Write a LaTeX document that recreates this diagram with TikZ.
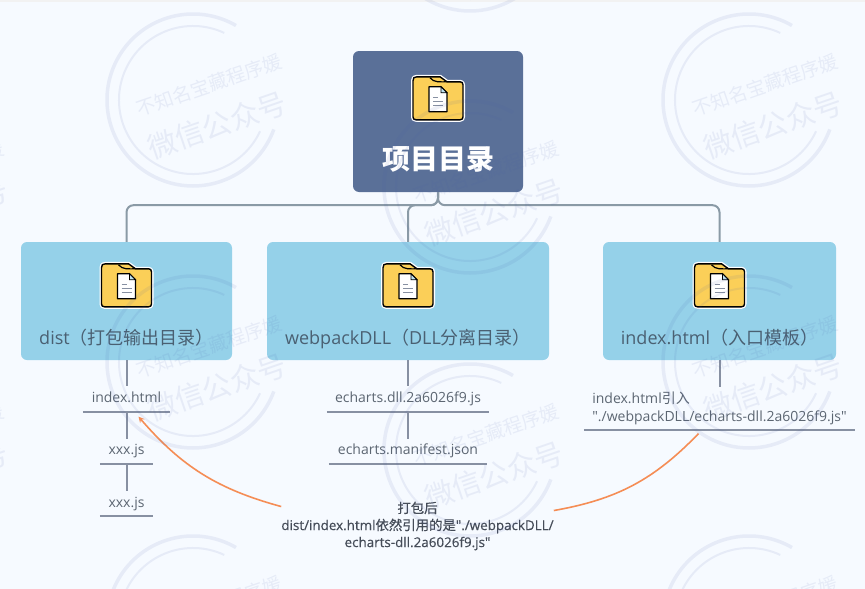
\documentclass[tikz,border=0pt]{standalone}
\usepackage{fontspec}
\setmainfont{Open Sans}[Ligatures=TeXOff]
\newfontfamily\cjk{Noto Sans CJK SC}
\newfontfamily\notelatin{Open Sans}[Ligatures=TeXOff, FakeBold=0.5]
\newfontfamily\notecjk{Noto Sans CJK SC}[FakeBold=0.5]
\usepackage{tikz}
\usetikzlibrary{arrows,positioning,calc}
\definecolor{pagebg}{HTML}{F6FAFF}
\definecolor{rootblue}{HTML}{5A7098}
\definecolor{dirblue}{HTML}{95D1E9}
\definecolor{dirtext}{HTML}{4A6072}
\definecolor{linkgrey}{HTML}{8A9AA6}
\definecolor{leafgrey}{HTML}{8790A2}
\definecolor{leaftext}{HTML}{5C6672}
\definecolor{notetext}{HTML}{454C58}
\definecolor{curveorange}{HTML}{F58D55}
\definecolor{folderyellow}{HTML}{FBCF58}
\definecolor{markblue}{HTML}{465AAA}
\tikzstyle{rootnode} = [rectangle, rounded corners=6pt, inner sep=0pt, minimum width=170pt, fill=rootblue, text=white, font=\cjk\bfseries\fontsize{28}{32}\selectfont, text height=118pt, text depth=23pt]
\tikzstyle{dirnode} = [rectangle, rounded corners=6pt, inner sep=0pt, fill=dirblue, text=dirtext, font=\fontsize{18}{22}\selectfont, text height=102pt, text depth=16pt]
\tikzstyle{leafnode} = [inner sep=0pt, text=leaftext, font=\fontsize{14}{18}\selectfont, text height=16pt, text depth=9pt]
\tikzstyle{wideleaf} = [inner sep=0pt, inner xsep=8pt, text=leaftext, font=\fontsize{14}{18}\selectfont, align=left]
\tikzstyle{notenode} = [inner sep=0pt, align=center, text=notetext, font=\notelatin\fontsize{13.4}{17}\selectfont]
\tikzstyle{link} = [draw=linkgrey, line width=2pt, rounded corners=7pt]
\tikzstyle{leafline} = [draw=leafgrey, line width=2pt]
\tikzstyle{curve} = [draw=curveorange, line width=1.6pt, ->, >=stealth]
\tikzstyle{markfont} = [inner sep=0pt, text=markblue, text opacity=.09, font=\cjk]
\newcommand{\foldericon}[1]{%
  \begin{scope}[shift={(#1)}]
    \draw [white, line width=4pt, line join=round] (-25,-15) -- (-25,-17) .. controls (-25,-20) and (-24,-21) .. (-21,-21) -- (2,-21) -- (9,-16) -- (22,-16) .. controls (24,-16) and (25,-15) .. (25,-13) -- (25,19) .. controls (25,21) and (24,22) .. (22,22) -- (-22,22) .. controls (-24,22) and (-25,21) .. (-25,19) -- cycle;
    \draw [black, fill=folderyellow, line width=1.4pt, line join=round] (-25,-15) -- (-25,-17) .. controls (-25,-20) and (-24,-21) .. (-21,-21) -- (2,-21) -- (9,-16) -- (22,-16) .. controls (24,-16) and (25,-15) .. (25,-13) -- (25,19) .. controls (25,21) and (24,22) .. (22,22) -- (-22,22) .. controls (-24,22) and (-25,21) .. (-25,19) -- cycle;
    \draw [black, line width=1.2pt] (-8,-20) .. controls (-4,-15) and (2,-16) .. (9,-16);
    \draw [black, fill=white, line width=1.2pt, line join=round] (-9,-11) -- (3,-11) -- (9,-5) -- (9,14) -- (-9,14) -- cycle;
    \draw [black, fill=dirblue!60, line width=.8pt] (3,-11) -- (3,-5) -- (9,-5) -- cycle;
    \draw [leafgrey, line width=.6pt] (-5,-1) -- (0,-1) (-5,3) -- (5,3) (-5,7) -- (5,7);
  \end{scope}}
\newcommand{\watermark}[3]{%
  \begin{scope}[shift={(#1,#2)}]
    \draw [markblue, opacity=.09, line width=3.5pt] (0,0) ++(60:86pt) arc[start angle=60, end angle=340, radius=86pt];
    \draw [markblue, opacity=.09, line width=2pt] (0,0) ++(65:74pt) arc[start angle=65, end angle=335, radius=74pt];
    \node (#3a) [markfont, rotate=19, font=\cjk\fontsize{19}{19}\selectfont] at (16,-15) {不知名宝藏程序媛};
    \node (#3b) [markfont, rotate=19, font=\cjk\fontsize{29}{29}\selectfont] at (24,25) {微信公众号};
  \end{scope}}
\begin{document}
\begin{tikzpicture}[x=1pt, y=-1pt]
    \useasboundingbox (0,0) rectangle (865,589);
    \fill [pagebg] (0,0) rectangle (865,589);
    \fill [black!5] (0,0) rectangle (865,2);

    % Nodes
    \node (root) [rootnode] at (438,121.5) {项目目录};
    \node (dist) [dirnode, minimum width=211pt] at (126.5,301) {dist{\cjk（打包输出目录）}};
    \node (web) [dirnode, minimum width=282pt] at (408,301) {webpackDLL{\cjk（}DLL{\cjk 分离目录）}};
    \node (tpl) [dirnode, minimum width=233pt] at (719.5,301) {index.html{\cjk（入口模板）}};

    \node (distindex) [leafnode, below=26pt of dist, minimum width=87pt] {index.html};
    \node (distjsa) [leafnode, below=27pt of distindex, minimum width=53pt] {xxx.js};
    \node (distjsb) [leafnode, below=27pt of distjsa, minimum width=53pt] {xxx.js};
    \node (webdll) [leafnode, below=26pt of web, minimum width=162pt] {echarts.dll.2a6026f9.js};
    \node (webjson) [leafnode, below=27pt of webdll, minimum width=158pt] {echarts.manifest.json};
    \node (tplref) [wideleaf, below=27pt of tpl, minimum width=271pt, minimum height=42pt] {index.html{\cjk 引入}\\"./webpackDLL/echarts-dll.2a6026f9.js"};
    \node (note) [notenode] at (417.5,526) {{\notecjk 打包后}\\dist/index.html{\notecjk 依然引用的是}"./webpackDLL/\\echarts-dll.2a6026f9.js"};

    % Icons
    \foldericon{$(root.north)+(0,47)$}
    \foldericon{$(dist.north)+(0,43)$}
    \foldericon{$(web.north)+(0,43)$}
    \foldericon{$(tpl.north)+(0,43)$}

    % Arrows
    \draw [link] (root.south) -- ++(0,13) -| (dist.north);
    \draw [link] (root.south) -- ++(0,13) -| (web.north);
    \draw [link] (root.south) -- ++(0,13) -| (tpl.north);
    \draw [leafline] (dist) -- (distindex);
    \draw [leafline] (distindex.south) -- (distjsa);
    \draw [leafline] (distjsa.south) -- (distjsb);
    \draw [leafline] (web) -- (webdll);
    \draw [leafline] (webdll.south) -- (webjson);
    \draw [leafline] (tpl) -- (tplref);
    \foreach \n in {distindex,distjsa,distjsb,webdll,webjson,tplref}
        \draw [leafline] (\n.south west) -- (\n.south east);
    \draw [curve] ($(note.north west)+(0,5)$) to[bend left=17] ($(distindex.south)+(12,5)$);
    \draw [curve, -] ($(note.north east)+(0,9)$) to[bend right=18] ($(tplref.south)+(-21,4)$);

    % Marks
    \begin{scope}
        \clip (0,0) rectangle (865,589);
        \watermark{193}{100}{marka}
        \watermark{749}{100}{markb}
        \watermark{470}{187}{markc}
        \watermark{193}{362}{markd}
        \watermark{749}{362}{marke}
        \watermark{470}{450}{markf}
        \watermark{470}{-75}{markg}
        \watermark{193}{622}{markh}
        \watermark{749}{622}{marki}
        \watermark{-85}{187}{markj}
        \watermark{-85}{450}{markk}
    \end{scope}
\end{tikzpicture}
\end{document}
